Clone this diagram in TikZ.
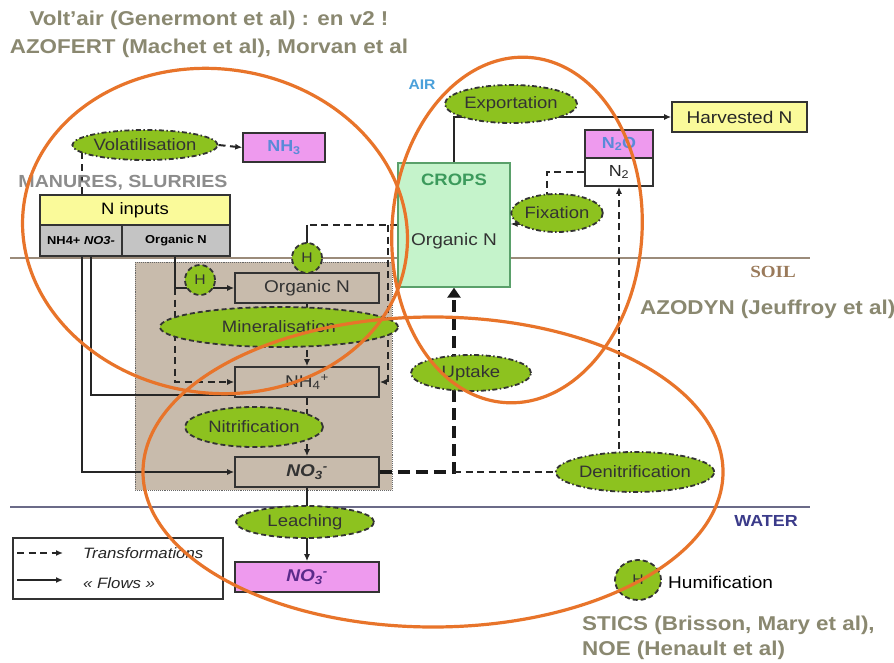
\documentclass[tikz,border=0pt]{standalone}
\usepackage{fontspec}
\setmainfont{Liberation Sans}[FakeStretch=1.12]
\newfontfamily\soilfont{Liberation Serif}[FakeStretch=1.12]
\usetikzlibrary{shapes.geometric,arrows.meta,calc}
\pgfdeclarelayer{back}\pgfdeclarelayer{wires}\pgfdeclarelayer{front}
\pgfsetlayers{back,wires,main,front}

\definecolor{orng}{HTML}{E8742A}
\definecolor{leaf}{HTML}{8DC21F}
\definecolor{soilbg}{HTML}{C8BBAC}
\definecolor{pinkbox}{HTML}{EE9AEE}
\definecolor{ybox}{HTML}{FAFA9A}
\definecolor{graybox}{HTML}{C4C4C4}
\definecolor{cropbg}{HTML}{C5F3CB}
\definecolor{cropedge}{HTML}{5AA06A}
\definecolor{cropttl}{HTML}{3C9A5C}
\definecolor{ttl}{HTML}{8A8870}
\definecolor{manure}{HTML}{8C8C8C}
\definecolor{soilc}{HTML}{9A7A5A}
\definecolor{waterc}{HTML}{3B3B8A}
\definecolor{airc}{HTML}{4AA0DA}
\definecolor{gasc}{HTML}{5A8AD8}
\definecolor{nitc}{HTML}{5A2A8A}
\definecolor{soilline}{HTML}{9B8B7A}
\definecolor{waterline}{HTML}{6B6B88}

\newcommand\setfs[1]{\fontsize{#1}{#1}\selectfont}

\tikzset{
  box/.style={rectangle, draw=black!80, line width=1.6pt, inner sep=0pt, align=center},
  soilitem/.style={box, fill=soilbg, minimum width=144, minimum height=30, font=\setfs{17}, text=black!80},
  proc/.style={ellipse, draw=black!80, fill=leaf, line width=1.8pt, inner sep=0pt,
    font=\setfs{16.5}, text=black!80},
  dashdot/.style={dash pattern=on 5pt off 2.5pt on 1.5pt off 2.5pt},
  dashline/.style={dash pattern=on 5pt off 3pt},
  hump/.style={proc, dashline, minimum width=30, minimum height=30, font=\setfs{14}},
  flowline/.style={draw=black!85, line width=2pt},
  flow/.style={flowline, -{Latex[length=7pt,width=6pt]}},
  transline/.style={draw=black!85, line width=2pt, dash pattern=on 7pt off 4.5pt},
  trans/.style={transline, -{Latex[length=7pt,width=6pt]}},
  uptk/.style={draw=black!90, line width=3.8pt, dash pattern=on 12pt off 6pt,
    -{Triangle[length=10pt,width=13pt]}},
  ring/.style={draw=orng, line width=3.2pt},
  ref/.style={font=\bfseries\setfs{20}, text=ttl, inner sep=0pt},
}

\begin{document}
\begin{tikzpicture}[x=1pt,y=-1pt]
\useasboundingbox (0,0) rectangle (894,663);

% ---------- page and compartments ----------
\begin{pgfonlayer}{back}
  \fill[white] (0,0) rectangle (894,663);
  \draw[soilline, line width=1.8pt] (10,258) -- (810,258);
  \draw[waterline, line width=1.8pt] (10,507) -- (810,507);
  \draw[fill=soilbg, draw=black!60, densely dotted, line width=0.9pt] (135,262) rectangle (392,490);
\end{pgfonlayer}

% ---------- reference models and compartment names ----------
\node[ref] (t1) at (209,20) {Volt'air (Genermont et al) : en v2 !};
\node[ref] (t2) at (209,48) {AZOFERT (Machet et al), Morvan et al};
\node[ref, anchor=west] (t3) at (640,309) {AZODYN (Jeuffroy et al)};
\node[ref, anchor=west] (t4) at (582,625) {STICS (Brisson, Mary et al),};
\node[ref, anchor=west] (t5) at (582,650) {NOE (Henault et al)};

\node[font=\bfseries\setfs{14}, text=airc, inner sep=0pt] (air) at (422,85) {AIR};
\node[font=\bfseries\setfs{17.5}, text=manure, inner sep=0pt] (manu) at (123,183) {MANURES, SLURRIES};
\node[font=\soilfont\bfseries\setfs{17}, text=soilc, inner sep=0pt, anchor=east] (soil) at (796,272) {SOIL};
\node[font=\bfseries\setfs{16}, text=waterc, inner sep=0pt, anchor=east] (water) at (798,521) {WATER};

% ---------- inputs ----------
\node[box, fill=ybox, line width=2.6pt, minimum width=190, minimum height=30, font=\setfs{16.5}] (ninp) at (135,210) {N inputs};
\node[box, fill=graybox, minimum width=82, minimum height=31, font=\bfseries\setfs{11.5}] (nmin) at (81,240.5) {NH4+ \textit{NO3-}};
\node[box, fill=graybox, minimum width=108, minimum height=31, font=\bfseries\setfs{11.5}] (norg) at (176,240.5) {Organic N};

\node[proc, dashdot, minimum width=140, minimum height=30] (vol) at (145,145) {Volatilisation};
\node[box, fill=pinkbox, minimum width=82, minimum height=29, font=\bfseries\setfs{16}, text=gasc] (nh3) at (284,147.5) {NH\textsubscript{3}};

% ---------- soil pools ----------
\node[soilitem] (orgn) at (307,288) {Organic N};
\node[soilitem] (nh4) at (307,382) {NH\textsubscript{4}\textsuperscript{+}};
\node[soilitem, font=\bfseries\itshape\setfs{17}] (no3) at (307,472) {NO\textsubscript{3}\textsuperscript{-}};
\node[proc, dashline, minimum width=238, minimum height=40] (minl) at (279,327) {Mineralisation};
\node[proc, dashline, minimum width=138, minimum height=40] (nitr) at (254,427) {Nitrification};
\node[hump] (h1) at (200,280) {H};
\node[hump] (h2) at (307,258) {H};

% ---------- water ----------
\node[proc, dashline, minimum width=138, minimum height=32] (leach) at (305,522) {Leaching};
\node[box, fill=pinkbox, minimum width=144, minimum height=30, font=\bfseries\itshape\setfs{17}, text=nitc] (no3w) at (307,577) {NO\textsubscript{3}\textsuperscript{-}};

% ---------- crops and air ----------
\node[rectangle, draw=cropedge, fill=cropbg, line width=1.3pt, minimum width=112, minimum height=124, inner sep=0pt] (crops) at (454,225) {};
\node[font=\bfseries\setfs{16.5}, text=cropttl, inner sep=0pt] (cropsttl) at (454,180) {CROPS};
\node[font=\setfs{17}, text=black!80, inner sep=0pt] (cropsorg) at (454,241) {Organic N};
\node[proc, dashdot, minimum width=117, minimum height=38] (expo) at (511,104) {Exportation};
\node[box, fill=ybox, minimum width=135, minimum height=30, font=\setfs{17}, text=black!85] (harv) at (739.5,117) {Harvested N};
\node[box, fill=pinkbox, minimum width=68, minimum height=28, font=\bfseries\setfs{16}, text=gasc] (n2o) at (619,144) {N\textsubscript{2}O};
\node[box, fill=white, minimum width=68, minimum height=28, font=\setfs{16}, text=black!85] (n2) at (619,172) {N\textsubscript{2}};
\node[proc, dashdot, minimum width=86, minimum height=38] (fix) at (557,213) {Fixation};
\node[proc, dashdot, minimum width=120, minimum height=36] (upt) at (471,373) {Uptake};
\node[proc, dashdot, minimum width=136, minimum height=40] (denit) at (635,472) {Denitrification};

% ---------- legend ----------
\node[box, minimum width=210, minimum height=61] (legend) at (118,568.5) {};
\coordinate (l1a) at (17,553);
\coordinate (l1b) at (63,553);
\coordinate (l2a) at (17,580);
\coordinate (l2b) at (63,580);
\node[anchor=west, font=\itshape\setfs{15}, text=black!85, inner sep=0pt] (ltr) at (83,553) {Transformations};
\node[anchor=west, font=\itshape\setfs{15}, text=black!85, inner sep=0pt] (lfl) at (83,583) {« Flows »};
\node[hump, minimum width=46, minimum height=40, font=\setfs{14}] (hleg) at (638,580) {H};
\node[anchor=west, font=\setfs{17}, inner sep=0pt] (humi) at (668,582) {Humification};

% ---------- connectors ----------
\coordinate (xa) at (82,0);
\coordinate (xb) at (91,0);
\coordinate (xo) at (175,0);
\coordinate (xr) at (388,0);
\coordinate (xf) at (547,0);
\coordinate (yf) at (0,224);
\begin{pgfonlayer}{wires}
  % volatilisation
  \draw[transline] (ninp.north -| xa) -- (vol.center -| xa);
  \draw[trans] (vol.east) -- (nh3.west);
  % mineral inputs
  \draw[flow] (nmin.south -| xa) |- (no3.west);
  \draw[flowline] (nmin.south -| xb) |- ([yshift=3pt]nh4.south west);
  % organic inputs
  \draw[flow] (norg.south -| xo) |- (orgn.west);
  \draw[trans] (orgn.west -| xo) |- (nh4.west);
  % soil transformations
  \draw[trans] (orgn.south) -- (nh4.north);
  \draw[trans] (nh4.south) -- (no3.north);
  \draw[flow] (no3.south) -- (no3w.north);
  % crop residues
  \draw[transline] (crops.west) -- (crops.west -| h2);
  \draw[flowline] (crops.west -| h2) -- (orgn.north);
  \draw[trans] (crops.west -| xr) |- (nh4.east);
  % uptake and denitrification
  \draw[uptk] (no3.east) -| (crops.south);
  \draw[transline] (crops.south |- no3.east) -- (denit.center);
  \draw[trans] (n2.south |- denit.center) -- (n2.south);
  % fixation
  \draw[transline] (n2.west) -| (xf |- fix.center);
  \draw[trans] (fix.center |- yf) -- (crops.east |- yf);
  % harvest
  \draw[flow] (crops.north) |- (harv.west);
  % legend
  \draw[trans] (l1a) -- (l1b);
  \draw[flow] (l2a) -- (l2b);
\end{pgfonlayer}

% ---------- model scopes ----------
\begin{pgfonlayer}{front}
  \draw[ring, rotate around={-8:(215,231)}] (215,231) ellipse [x radius=193, y radius=162];
  \draw[ring, rotate around={-4:(517,230)}] (517,230) ellipse [x radius=125, y radius=173];
  \draw[ring] (433,472) ellipse [x radius=290, y radius=155];
\end{pgfonlayer}
\end{tikzpicture}
\end{document}
